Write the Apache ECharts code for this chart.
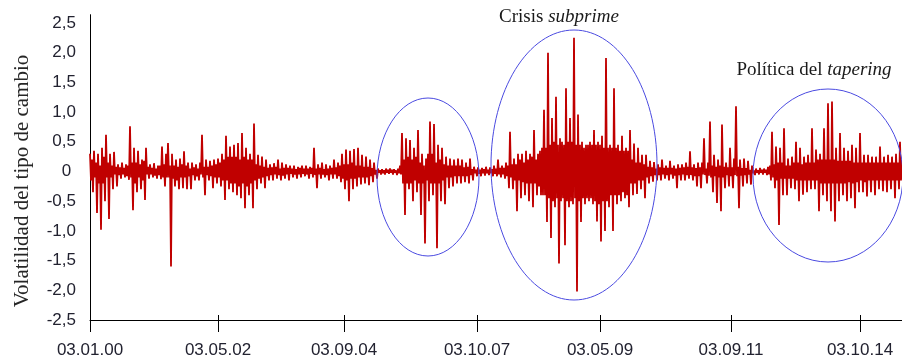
<!DOCTYPE html>
<html>
<head>
<meta charset="utf-8">
<script src="https://cdn.jsdelivr.net/npm/echarts@6/dist/echarts.min.js"></script>
<style>
html,body{margin:0;padding:0;background:#fff;}
#chart{width:902px;height:362px;}
</style>
</head>
<body>
<div id="chart"></div>
<script>
const values = [
0.3,-0.15,0.2,-0.35,0.35,-0.1,0.15,-0.7,0.3,-0.2,0.1,-0.98,0.4,-0.2,0.25,-0.5,0.62,-0.1,0.15,-0.8,
0.3,-0.1,0.1,-0.3,0.33,-0.05,0.08,-0.25,0.12,-0.06,0.07,-0.12,0.15,-0.05,0.06,-0.1,0.12,-0.08,0.1,-0.14,
0.76,-0.1,0.15,-0.65,0.4,-0.2,0.15,-0.35,0.35,-0.1,0.12,-0.3,0.2,-0.15,0.18,-0.48,0.4,-0.05,0.08,-0.12,
0.12,-0.05,0.06,-0.1,0.14,-0.07,0.05,-0.12,0.1,-0.06,0.1,-0.13,0.42,-0.1,0.12,-0.25,0.3,-0.1,0.48,-0.1,
0.1,-1.6,0.3,-0.12,0.1,-0.25,0.2,-0.15,0.08,-0.3,0.22,-0.1,0.12,-0.28,0.34,-0.1,0.1,-0.3,0.15,-0.08,
0.05,-0.3,0.15,-0.06,0.07,-0.15,0.12,-0.08,0.05,-0.15,0.15,-0.05,0.62,-0.1,0.08,-0.4,0.2,-0.06,0.08,-0.15,
0.18,-0.08,0.1,-0.28,0.2,-0.1,0.12,-0.2,0.22,-0.1,0.15,-0.25,0.3,-0.15,0.2,-0.48,0.6,-0.15,0.25,-0.3,
0.42,-0.2,0.25,-0.35,0.45,-0.2,0.25,-0.4,0.48,-0.25,0.2,-0.45,0.65,-0.2,0.25,-0.62,0.4,-0.25,0.2,-0.4,
0.3,-0.2,0.2,-0.62,0.81,-0.15,0.12,-0.3,0.28,-0.12,0.1,-0.2,0.25,-0.1,0.08,-0.28,0.2,-0.08,0.06,-0.15,
0.12,-0.06,0.07,-0.15,0.14,-0.05,0.08,-0.12,0.2,-0.06,0.05,-0.15,0.15,-0.07,0.06,-0.12,0.12,-0.05,0.06,-0.15,
0.1,-0.04,0.05,-0.1,0.1,-0.05,0.04,-0.12,0.08,-0.05,0.06,-0.1,0.1,-0.04,0.05,-0.08,0.1,-0.05,0.05,-0.12,
0.08,-0.04,0.06,-0.1,0.4,-0.06,0.05,-0.28,0.12,-0.05,0.06,-0.12,0.15,-0.05,0.04,-0.1,0.12,-0.06,0.05,-0.15,
0.1,-0.05,0.06,-0.12,0.2,-0.05,0.07,-0.12,0.15,-0.08,0.1,-0.18,0.3,-0.12,0.12,-0.3,0.37,-0.15,0.12,-0.5,
0.35,-0.12,0.15,-0.3,0.38,-0.12,0.1,-0.25,0.4,-0.1,0.1,-0.22,0.28,-0.1,0.08,-0.2,0.25,-0.1,0.08,-0.23,
0.2,-0.08,0.06,-0.18,0.15,-0.05,0.03,-0.12,0.05,-0.02,0.02,-0.05,0.04,-0.03,0.02,-0.05,0.05,-0.02,0.03,-0.04,
0.05,-0.02,0.03,-0.05,0.04,-0.02,0.02,-0.06,0.05,-0.03,0.1,-0.05,0.65,-0.2,0.2,-0.73,0.56,-0.2,0.25,-0.3,
0.53,-0.2,0.2,-0.5,0.4,-0.15,0.25,-0.35,0.7,-0.2,0.15,-0.73,0.3,-0.2,0.1,-1.21,0.22,-0.15,0.3,-0.5,
0.84,-0.2,0.3,-0.4,0.8,-0.2,0.15,-1.29,0.45,-0.2,0.2,-0.5,0.4,-0.15,0.12,-0.55,0.25,-0.1,0.1,-0.28,
0.22,-0.1,0.1,-0.25,0.2,-0.08,0.1,-0.2,0.22,-0.08,0.1,-0.2,0.2,-0.08,0.07,-0.18,0.15,-0.08,0.08,-0.2,
0.22,-0.06,0.04,-0.15,0.08,-0.03,0.03,-0.08,0.07,-0.04,0.03,-0.08,0.06,-0.03,0.04,-0.07,0.08,-0.03,0.03,-0.06,
0.07,-0.03,0.04,-0.08,0.1,-0.04,0.05,-0.08,0.2,-0.05,0.06,-0.1,0.1,-0.05,0.06,-0.12,0.15,-0.08,0.1,-0.28,
0.67,-0.1,0.12,-0.3,0.22,-0.15,0.12,-0.67,0.3,-0.15,0.2,-0.45,0.3,-0.18,0.15,-0.4,0.35,-0.2,0.2,-0.5,
0.3,-0.2,0.25,-0.6,0.7,-0.2,0.2,-0.4,0.3,-0.25,0.35,-0.4,0.4,-0.4,1.04,-0.4,0.4,-0.85,2.0,-0.45,
0.45,-1.12,0.9,-0.5,0.5,-0.6,1.26,-0.45,0.45,-1.55,0.56,-0.5,0.5,-0.45,0.45,-1.24,1.4,-0.5,0.5,-0.6,
0.9,-0.5,0.5,-0.55,2.25,-0.45,0.45,-2.02,0.96,-0.5,0.45,-0.85,0.5,-0.45,0.4,-0.55,0.45,-0.45,0.45,-0.5,
0.5,-0.45,0.45,-0.55,0.7,-0.5,0.45,-0.84,0.5,-0.55,0.45,-1.18,0.6,-0.5,0.4,-1.0,1.91,-0.5,0.4,-0.6,
0.45,-0.4,0.4,-1.0,1.4,-0.4,0.4,-0.55,0.45,-0.4,0.35,-0.5,0.6,-0.35,0.35,-0.45,0.4,-0.4,0.35,-0.6,
0.7,-0.2,0.2,-0.4,0.47,-0.2,0.15,-0.38,0.4,-0.15,0.15,-0.3,0.28,-0.15,0.12,-0.45,0.28,-0.1,0.08,-0.2,
0.18,-0.08,0.07,-0.17,0.16,-0.06,0.05,-0.15,0.12,-0.06,0.07,-0.15,0.2,-0.05,0.06,-0.12,0.1,-0.06,0.06,-0.15,
0.18,-0.05,0.06,-0.12,0.1,-0.07,0.05,-0.28,0.12,-0.06,0.06,-0.15,0.12,-0.05,0.07,-0.15,0.15,-0.06,0.08,-0.12,
0.34,-0.06,0.07,-0.15,0.12,-0.08,0.06,-0.25,0.15,-0.08,0.07,-0.28,0.15,-0.05,0.56,-0.06,0.05,-0.2,0.15,-0.07,
0.84,-0.1,0.1,-0.35,0.28,-0.08,0.08,-0.53,0.2,-0.1,0.1,-0.67,0.79,-0.1,0.08,-0.28,0.15,-0.06,0.07,-0.25,
0.4,-0.08,0.07,-0.28,0.22,-0.06,1.1,-0.08,0.08,-0.62,0.2,-0.07,0.06,-0.25,0.22,-0.06,0.06,-0.2,0.18,-0.05,
0.03,-0.22,0.1,-0.03,0.02,-0.06,0.05,-0.02,0.02,-0.05,0.06,-0.02,0.03,-0.05,0.05,-0.02,0.03,-0.06,0.08,-0.05,
0.1,-0.15,0.67,-0.1,0.12,-0.28,0.42,-0.15,0.15,-0.9,0.4,-0.12,0.15,-0.4,0.73,-0.12,0.1,-0.4,0.22,-0.12,
0.1,-0.28,0.25,-0.12,0.15,-0.3,0.5,-0.15,0.15,-0.5,0.4,-0.15,0.12,-0.39,0.25,-0.15,0.15,-0.35,0.28,-0.15,
0.15,-0.3,0.73,-0.15,0.15,-0.3,0.37,-0.15,0.2,-0.67,0.3,-0.2,0.2,-0.4,0.73,-0.2,0.2,-0.5,1.15,-0.2,
0.2,-0.67,1.18,-0.2,0.2,-0.84,0.4,-0.2,0.18,-0.5,0.65,-0.2,0.18,-0.4,0.4,-0.2,0.18,-0.5,0.35,-0.18,
0.18,-0.45,0.45,-0.2,0.15,-0.62,0.4,-0.18,0.15,-0.35,0.65,-0.15,0.15,-0.35,0.28,-0.18,0.15,-0.42,0.28,-0.15,
0.15,-0.35,0.25,-0.15,0.15,-0.4,0.25,-0.15,0.15,-0.3,0.42,-0.15,0.15,-0.33,0.25,-0.15,0.15,-0.35,0.28,-0.15,
0.15,-0.3,0.25,-0.15,0.15,-0.45,0.3,-0.15,0.15,-0.3,0.5,-0.15,0.2
];
const categories = values.map((v, i) => String(i));
const tickIndex = [0, 128, 254, 387, 510, 641, 770];
const tickLabels = ['03.01.00', '03.05.02', '03.09.04', '03.10.07', '03.05.09', '03.09.11', '03.10.14'];
const yAxisName = 'Volatilidad del tipo de cambio';

const isTick = (i) => tickIndex.indexOf(i) >= 0;
const chart = echarts.init(document.getElementById('chart'), null, {renderer: 'canvas'});
const labelColor = '#222230';

chart.setOption({
  animation: false,
  grid: {left: 90, right: 0, top: 14.7, bottom: 42},
  xAxis: [{
    type: 'category',
    data: categories,
    boundaryGap: false,
    axisLine: {onZero: false, lineStyle: {color: '#000', width: 1}},
    axisTick: {show: true, interval: isTick, length: 12, lineStyle: {color: '#000', width: 1}},
    axisLabel: {
      interval: isTick,
      formatter: (v, i) => tickLabels[tickIndex.indexOf(i)] || '',
      margin: 22, fontFamily: 'Liberation Sans', fontSize: 17, color: labelColor
    },
    splitLine: {show: false}
  }, {
    type: 'category',
    data: categories,
    boundaryGap: false,
    position: 'bottom',
    axisLine: {show: false, onZero: false},
    axisTick: {show: true, inside: true, interval: isTick, length: 5, lineStyle: {color: '#000', width: 1}},
    axisLabel: {show: false},
    splitLine: {show: false}
  }],
  yAxis: {
    type: 'value',
    min: -2.5, max: 2.64, interval: 0.5,
    axisLine: {show: true, lineStyle: {color: '#000', width: 1}},
    axisTick: {show: false},
    splitLine: {show: false},
    axisLabel: {
      showMaxLabel: false,
      margin: 14,
      fontFamily: 'Liberation Sans', fontSize: 17, color: labelColor,
      formatter: (v) => Math.abs(v) < 1e-9 ? '0 ' : v.toFixed(1).replace('.', ',')
    }
  },
  series: [{
    type: 'line',
    data: values,
    xAxisIndex: 0,
    symbol: 'none',
    showSymbol: false,
    lineStyle: {color: '#C00000', width: 1.8, join: 'bevel'},
    silent: true
  }],
  graphic: [
    {type: 'text', x: 22, y: 181, rotation: Math.PI / 2,
     style: {text: yAxisName, font: '21px "Liberation Serif"', fill: '#262626', align: 'center', verticalAlign: 'middle'}},
    {type: 'text', x: 559, y: 17,
     style: {text: 'Crisis {it|subprime}', font: '19px "Liberation Serif"', fill: '#1a1a1a', align: 'center', verticalAlign: 'middle',
       rich: {it: {fontStyle: 'italic', fontFamily: 'Liberation Serif', fontSize: 19, fill: '#1a1a1a'}}}},
    {type: 'text', x: 814, y: 70,
     style: {text: 'Política del {it|tapering}', font: '19px "Liberation Serif"', fill: '#1a1a1a', align: 'center', verticalAlign: 'middle',
       rich: {it: {fontStyle: 'italic', fontFamily: 'Liberation Serif', fontSize: 19, fill: '#1a1a1a'}}}},
    {type: 'ellipse', shape: {cx: 428, cy: 177, rx: 51, ry: 79}, style: {fill: 'none', stroke: '#4a4ae0', lineWidth: 1}, z: 10},
    {type: 'ellipse', shape: {cx: 574, cy: 165, rx: 83, ry: 135}, style: {fill: 'none', stroke: '#4a4ae0', lineWidth: 1}, z: 10},
    {type: 'ellipse', shape: {cx: 828, cy: 175.5, rx: 75, ry: 86.5}, style: {fill: 'none', stroke: '#4a4ae0', lineWidth: 1}, z: 10}
  ]
});
</script>
</body>
</html>
